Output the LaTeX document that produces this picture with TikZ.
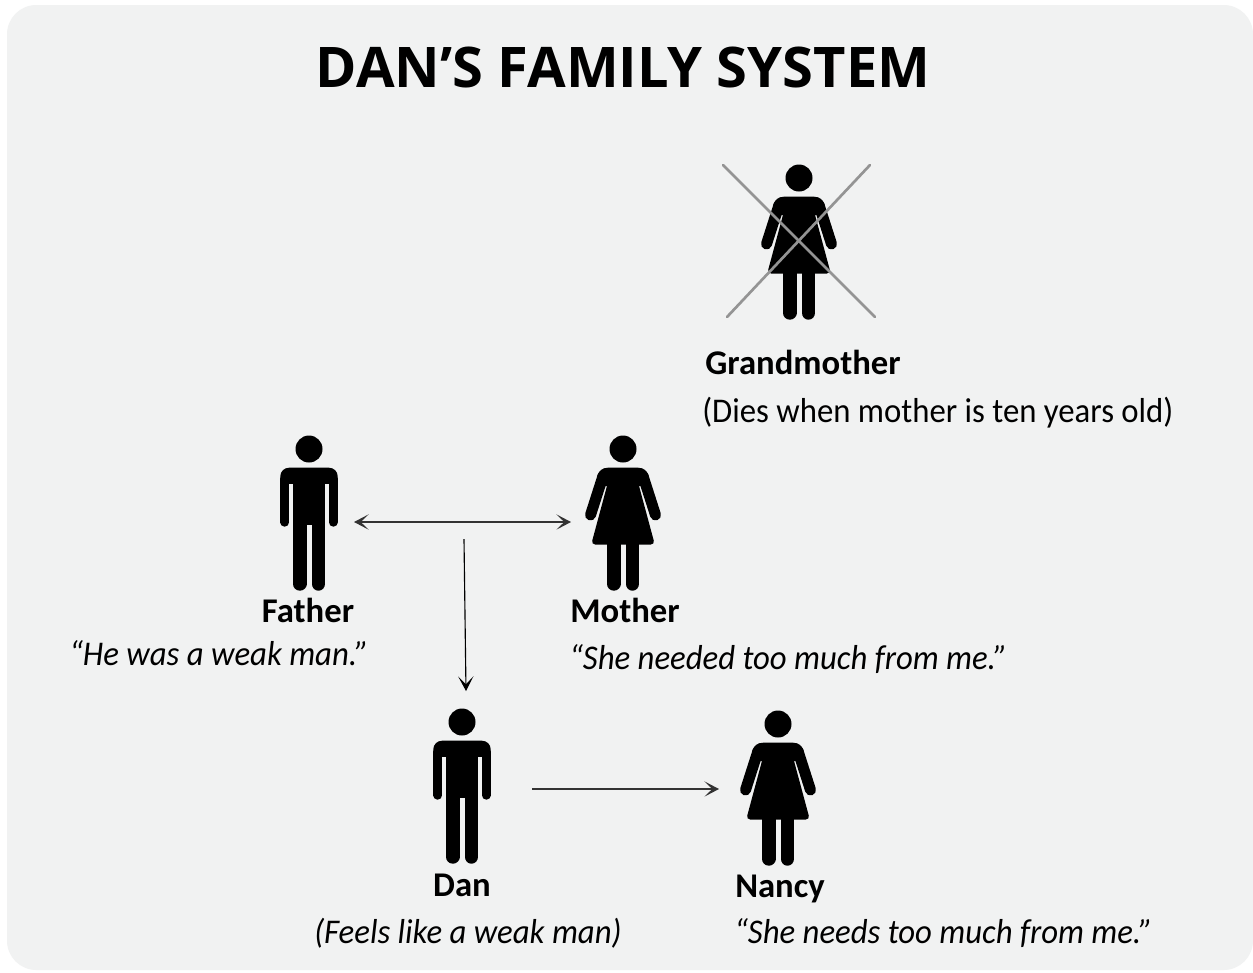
\documentclass[tikz,border=0pt]{standalone}
\usepackage{fontspec}
\setmainfont{Carlito}
\newfontfamily\titlefont{Open Sans}
\newfontfamily\bodyfont[FakeStretch=0.945]{Carlito}
\usetikzlibrary{arrows.meta}
\definecolor{panel}{HTML}{F1F2F2}
\tikzset{
  x=0.75pt,y=-0.75pt,
  figbox/.style={inner sep=0pt,outer sep=0pt,minimum width=#1,minimum height=147pt},
  namelabel/.style={inner sep=0pt,anchor=base,font=\fontsize{26pt}{30pt}\selectfont\bfseries},
  quotelabel/.style={inner sep=0pt,anchor=base west,font=\bodyfont\fontsize{26pt}{30pt}\selectfont\itshape},
  notelabel/.style={inner sep=0pt,anchor=base west,font=\bodyfont\fontsize{26pt}{30pt}\selectfont},
  thead/.tip={Stealth[length=11pt,width=11.5pt,inset=6pt]},
  link/.style={draw=black!80,line width=1.2pt,-thead},
  xline/.style={draw=black!42,line width=2pt,line cap=round},
  limb/.style={black,line cap=round},
  man/.pic={
    \fill[black] (0,0) circle (13.5);
    \fill[black,rounded corners=6.5pt] (-28.7,18.7) rectangle (28.7,50);
    \fill[panel] (-19.7,35) rectangle (-16,60);
    \fill[panel] (16,35) rectangle (19.7,60);
    \fill[black] (-16,25) rectangle (16,76);
    \draw[limb,line width=6.75pt] (-24.2,30) -- (-24.2,73.2);
    \draw[limb,line width=6.75pt] (24.2,30) -- (24.2,73.2);
    \draw[limb,line width=10.35pt] (-9.4,70) -- (-9.4,134.8);
    \draw[limb,line width=10.35pt] (9.4,70) -- (9.4,134.8);
  },
  woman/.pic={
    \fill[black] (0,0) circle (13.5);
    \draw[limb,line width=8.25pt] (-20,27) -- (-32.5,66);
    \draw[limb,line width=8.25pt] (20,27) -- (32.5,66);
    \fill[black] (-15,18.7) .. controls (-21,18.7) and (-24,22) .. (-25.6,26.5) -- (-19,37) -- (19,37) -- (25.6,26.5) .. controls (24,22) and (21,18.7) .. (15,18.7) -- cycle;
    \fill[black,rounded corners=3pt] (-15,30) -- (15,30) -- (15.5,35) -- (31.8,95.5) -- (-31.8,95.5) -- (-15.5,35) -- cycle;
    \draw[limb,line width=10.35pt] (-9.4,90) -- (-9.4,134.8);
    \draw[limb,line width=10.35pt] (9.4,90) -- (9.4,134.8);
  }
}
\begin{document}
\begin{tikzpicture}
\useasboundingbox (0,0) rectangle (1253,972);
\fill[white] (0,0) rectangle (1253,972);
\fill[panel,rounded corners=22pt] (7,5) rectangle (1253,970);
\node[inner sep=0pt,anchor=base] (title) at (623,87) {\titlefont\fontsize{42pt}{48pt}\selectfont\bfseries DAN’S FAMILY SYSTEM};

\pic at (799,178) {woman};
\coordinate (xa) at (723,165); \coordinate (xb) at (875,317);
\coordinate (xc) at (870,165); \coordinate (xd) at (727,317);
\draw[xline] (xa) -- (xb);
\draw[xline] (xc) -- (xd);
\node[namelabel] (grandmother) at (803,374.5) {Grandmother};
\node[notelabel] (gmnote) at (702,422) {(Dies when mother is ten years old)};

\pic at (309,449) {man};
\pic at (623,449) {woman};
\pic at (462,722) {man};
\pic at (778,724) {woman};

\node[figbox=67.5pt] (father) at (309,522) {};
\node[figbox=78pt] (mother) at (623,522) {};
\node[figbox=105pt] (dan) at (462,789) {};
\node[figbox=88.5pt] (nancy) at (778,789) {};

\draw[link,thead-thead] (father.east) -- (mother.west);
\coordinate (tee) at (464,539);
\coordinate (danin) at (466,691);
\draw[link,line width=0.85pt,draw=black] (tee) -- (danin);
\draw[link] (dan.east) -- (nancy.west);

\node[namelabel] (fatherlabel) at (308,622.5) {Father};
\node[quotelabel] (fatherq) at (69,665) {“He was a weak man.”};
\node[namelabel] (motherlabel) at (625,622.5) {Mother};
\node[quotelabel] (motherq) at (569,669) {“She needed too much from me.”};
\node[namelabel] (danlabel) at (462,896.5) {Dan};
\node[quotelabel] (danq) at (314,943) {(Feels like a weak man)};
\node[namelabel] (nancylabel) at (780,897) {Nancy};
\node[quotelabel] (nancyq) at (734,943) {“She needs too much from me.”};
\end{tikzpicture}
\end{document}
